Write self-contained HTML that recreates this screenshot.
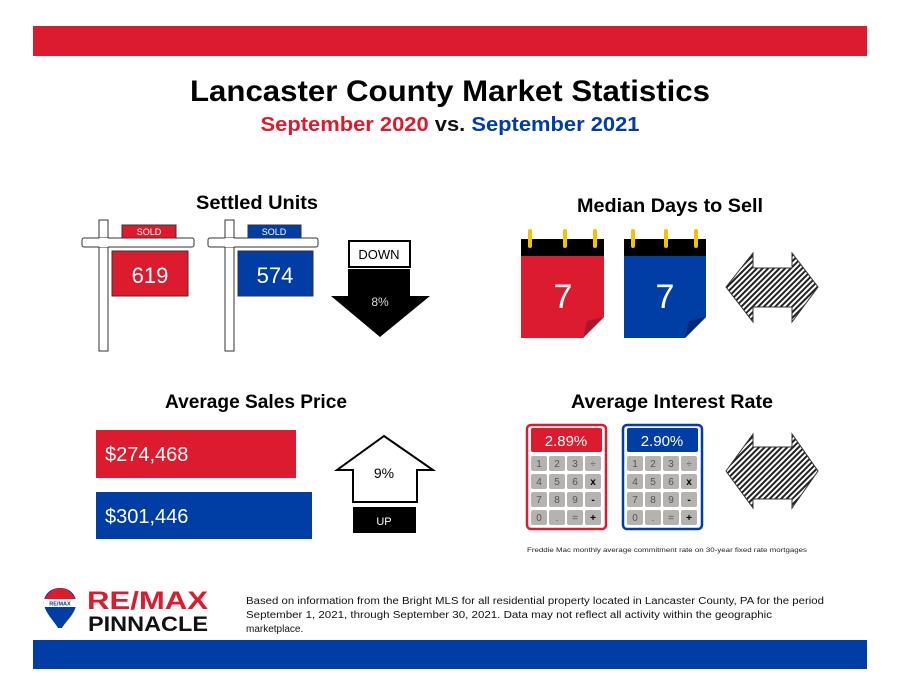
<!DOCTYPE html>
<html><head><meta charset="utf-8"><style>
body{margin:0;background:#fff;}
svg{display:block;font-family:"Liberation Sans",sans-serif;}
</style></head><body>
<svg width="900" height="695" viewBox="0 0 900 695">
<defs>
<pattern id="h" width="4" height="4" patternUnits="userSpaceOnUse" patternTransform="rotate(45)">
<rect width="4" height="4" fill="#fff"/><rect width="2" height="4" fill="#222"/></pattern>
</defs>
<rect x="33" y="26" width="834" height="30" fill="#dc1c2e"/>
<rect x="33" y="640" width="834" height="29" fill="#003da5"/>
<text x="450" y="101" text-anchor="middle" font-size="30" font-weight="bold" textLength="520" lengthAdjust="spacingAndGlyphs">Lancaster County Market Statistics</text>
<text x="450" y="131" text-anchor="middle" font-size="20" font-weight="bold" textLength="379" lengthAdjust="spacingAndGlyphs"><tspan fill="#dc1c2e">September 2020</tspan><tspan fill="#111"> vs. </tspan><tspan fill="#003da5">September 2021</tspan></text>
<g font-size="19" font-weight="bold" text-anchor="middle">
<text x="257" y="209" textLength="122" lengthAdjust="spacingAndGlyphs">Settled Units</text>
<text x="670" y="212" textLength="186" lengthAdjust="spacingAndGlyphs">Median Days to Sell</text>
<text x="256" y="408" textLength="182" lengthAdjust="spacingAndGlyphs">Average Sales Price</text>
<text x="672" y="408" textLength="202" lengthAdjust="spacingAndGlyphs">Average Interest Rate</text>
</g>
<!-- signs -->
<g stroke="#333" stroke-width="1">
<rect x="99" y="220" width="9" height="131" fill="#fff"/>
<rect x="82" y="238" width="112" height="9" rx="2" fill="#fff"/>
<rect x="99" y="238" width="9" height="9" fill="#fff" stroke="none"/>
<rect x="122" y="225" width="54" height="13" fill="#dc1c2e"/>
<rect x="112" y="251" width="76" height="45" fill="#dc1c2e"/>
<rect x="225" y="220" width="9" height="131" fill="#fff"/>
<rect x="208" y="238" width="110" height="9" rx="2" fill="#fff"/>
<rect x="225" y="238" width="9" height="9" fill="#fff" stroke="none"/>
<rect x="248" y="225" width="53" height="13" fill="#003da5"/>
<rect x="238" y="251" width="75" height="45" fill="#003da5"/>
</g>
<g fill="#fff" text-anchor="middle">
<text x="149" y="235" font-size="9">SOLD</text>
<text x="274" y="235" font-size="9">SOLD</text>
<text x="150" y="283" font-size="22">619</text>
<text x="275" y="283" font-size="22">574</text>
</g>
<!-- down -->
<rect x="349" y="241" width="61" height="26" fill="#fff" stroke="#000" stroke-width="2"/>
<text x="379" y="259" text-anchor="middle" font-size="13">DOWN</text>
<polygon points="348,269 410,269 410,296 430,296 380,337 331,296 348,296" fill="#000"/>
<text x="380" y="306" text-anchor="middle" font-size="12" fill="#ddd">8%</text>
<!-- calendars -->
<g>
<rect x="521" y="256" width="83" height="82" fill="#dc1c2e"/>
<polygon points="604,317 604,338 583,338" fill="#fff"/>
<polygon points="604,317 583,338 587,321" fill="#a8182a"/>
<rect x="521" y="239" width="83" height="17" fill="#000"/>
<rect x="528" y="229" width="4" height="19" rx="2" fill="#f2c300"/>
<rect x="563" y="229" width="4" height="19" rx="2" fill="#f2c300"/>
<rect x="593" y="229" width="4" height="19" rx="2" fill="#f2c300"/>
<text x="563" y="308" text-anchor="middle" font-size="34" fill="#fff">7</text>
<rect x="624" y="256" width="82" height="82" fill="#003da5"/>
<polygon points="706,317 706,338 685,338" fill="#fff"/>
<polygon points="706,317 685,338 689,321" fill="#002a78"/>
<rect x="624" y="239" width="82" height="17" fill="#000"/>
<rect x="631" y="229" width="4" height="19" rx="2" fill="#f2c300"/>
<rect x="664" y="229" width="4" height="19" rx="2" fill="#f2c300"/>
<rect x="694" y="229" width="4" height="19" rx="2" fill="#f2c300"/>
<text x="665" y="308" text-anchor="middle" font-size="34" fill="#fff">7</text>
</g>
<polygon points="726,287 753,253 753,268 792,268 792,253 818,287 792,322 792,307 753,307 753,322" fill="url(#h)" stroke="#333"/>
<!-- prices -->
<rect x="96" y="430" width="200" height="48" fill="#dc1c2e"/>
<rect x="96" y="492" width="216" height="47" fill="#003da5"/>
<text x="105" y="461" font-size="20" fill="#fff">$274,468</text>
<text x="105" y="523" font-size="20" fill="#fff">$301,446</text>
<polygon points="384,436 433,470 417,470 417,502 353,502 353,470 337,470" fill="#fff" stroke="#000" stroke-width="2"/>
<text x="384" y="478" text-anchor="middle" font-size="14">9%</text>
<rect x="353" y="507" width="63" height="26" fill="#000"/>
<text x="384" y="525" text-anchor="middle" font-size="11" fill="#fff">UP</text>
<!-- calculators -->
<g font-size="9" fill="#555" text-anchor="middle">
<rect x="527" y="425" width="79" height="104" rx="4" fill="#fff" stroke="#dc1c2e" stroke-width="2.5"/>
<rect x="531" y="428" width="71" height="24" rx="2" fill="#dc1c2e"/>
<text x="566" y="446" font-size="15" fill="#fff">2.89%</text>
<rect x="623" y="425" width="79" height="104" rx="4" fill="#fff" stroke="#003da5" stroke-width="2.5"/>
<rect x="627" y="428" width="71" height="24" rx="2" fill="#003da5"/>
<text x="662" y="446" font-size="15" fill="#fff">2.90%</text>
</g>
<g fill="#b5b3b0">
<rect x="531" y="456" width="16" height="15" rx="2"/><rect x="549" y="456" width="16" height="15" rx="2"/><rect x="567" y="456" width="16" height="15" rx="2"/><rect x="585" y="456" width="16" height="15" rx="2"/>
<rect x="531" y="474" width="16" height="15" rx="2"/><rect x="549" y="474" width="16" height="15" rx="2"/><rect x="567" y="474" width="16" height="15" rx="2"/><rect x="585" y="474" width="16" height="15" rx="2"/>
<rect x="531" y="492" width="16" height="15" rx="2"/><rect x="549" y="492" width="16" height="15" rx="2"/><rect x="567" y="492" width="16" height="15" rx="2"/><rect x="585" y="492" width="16" height="15" rx="2"/>
<rect x="531" y="510" width="16" height="15" rx="2"/><rect x="549" y="510" width="16" height="15" rx="2"/><rect x="567" y="510" width="16" height="15" rx="2"/><rect x="585" y="510" width="16" height="15" rx="2"/>
<rect x="627" y="456" width="16" height="15" rx="2"/><rect x="645" y="456" width="16" height="15" rx="2"/><rect x="663" y="456" width="16" height="15" rx="2"/><rect x="681" y="456" width="16" height="15" rx="2"/>
<rect x="627" y="474" width="16" height="15" rx="2"/><rect x="645" y="474" width="16" height="15" rx="2"/><rect x="663" y="474" width="16" height="15" rx="2"/><rect x="681" y="474" width="16" height="15" rx="2"/>
<rect x="627" y="492" width="16" height="15" rx="2"/><rect x="645" y="492" width="16" height="15" rx="2"/><rect x="663" y="492" width="16" height="15" rx="2"/><rect x="681" y="492" width="16" height="15" rx="2"/>
<rect x="627" y="510" width="16" height="15" rx="2"/><rect x="645" y="510" width="16" height="15" rx="2"/><rect x="663" y="510" width="16" height="15" rx="2"/><rect x="681" y="510" width="16" height="15" rx="2"/>
</g>
<g font-size="10" fill="#555" text-anchor="middle">
<text x="539" y="467">1</text><text x="557" y="467">2</text><text x="575" y="467">3</text><text x="593" y="467">÷</text>
<text x="539" y="485">4</text><text x="557" y="485">5</text><text x="575" y="485">6</text><text x="593" y="485" font-weight="bold" fill="#000">x</text>
<text x="539" y="503">7</text><text x="557" y="503">8</text><text x="575" y="503">9</text><text x="593" y="503" font-weight="bold" fill="#000">-</text>
<text x="539" y="521">0</text><text x="557" y="521">.</text><text x="575" y="521">=</text><text x="593" y="521" font-weight="bold" fill="#000">+</text>
<text x="635" y="467">1</text><text x="653" y="467">2</text><text x="671" y="467">3</text><text x="689" y="467">÷</text>
<text x="635" y="485">4</text><text x="653" y="485">5</text><text x="671" y="485">6</text><text x="689" y="485" font-weight="bold" fill="#000">x</text>
<text x="635" y="503">7</text><text x="653" y="503">8</text><text x="671" y="503">9</text><text x="689" y="503" font-weight="bold" fill="#000">-</text>
<text x="635" y="521">0</text><text x="653" y="521">.</text><text x="671" y="521">=</text><text x="689" y="521" font-weight="bold" fill="#000">+</text>
</g>
<polygon points="726,471 753,434 753,447 792,447 792,434 818,471 792,508 792,499 753,499 753,508" fill="url(#h)" stroke="#333"/>
<text x="527" y="552" font-size="6.6" fill="#222" textLength="280" lengthAdjust="spacingAndGlyphs">Freddie Mac monthly average commitment rate on 30-year fixed rate mortgages</text>
<!-- logo -->
<path d="M60,588 C48,588 43,597 44,605 C46,614 54,621 58,628 L62,628 C66,621 75,614 76,605 C77,597 72,588 60,588Z" fill="#003da5"/>
<path d="M44,602 C46,594 52,588 60,588 C68,588 74,594 76,602Z" fill="#dc1c2e"/>
<rect x="44" y="599" width="32" height="8" fill="#fff"/>
<text x="60" y="605.5" text-anchor="middle" font-size="5.5" font-weight="bold" fill="#003da5">RE/MAX</text>
<text x="87" y="609" font-size="25" font-weight="bold" fill="#dc1c2e" textLength="121" lengthAdjust="spacingAndGlyphs">RE/MAX</text>
<text x="88" y="631" font-size="21" font-weight="bold" fill="#111" textLength="120" lengthAdjust="spacingAndGlyphs">PINNACLE</text>
<g font-size="10" fill="#111">
<text x="246" y="604" textLength="578" lengthAdjust="spacingAndGlyphs">Based on information from the Bright MLS for all residential property located in Lancaster County, PA for the period</text>
<text x="246" y="618" textLength="526" lengthAdjust="spacingAndGlyphs">September 1, 2021, through September 30, 2021.  Data may not reflect all activity within the geographic</text>
<text x="246" y="632">marketplace.</text>
</g>
</svg>
</body></html>
